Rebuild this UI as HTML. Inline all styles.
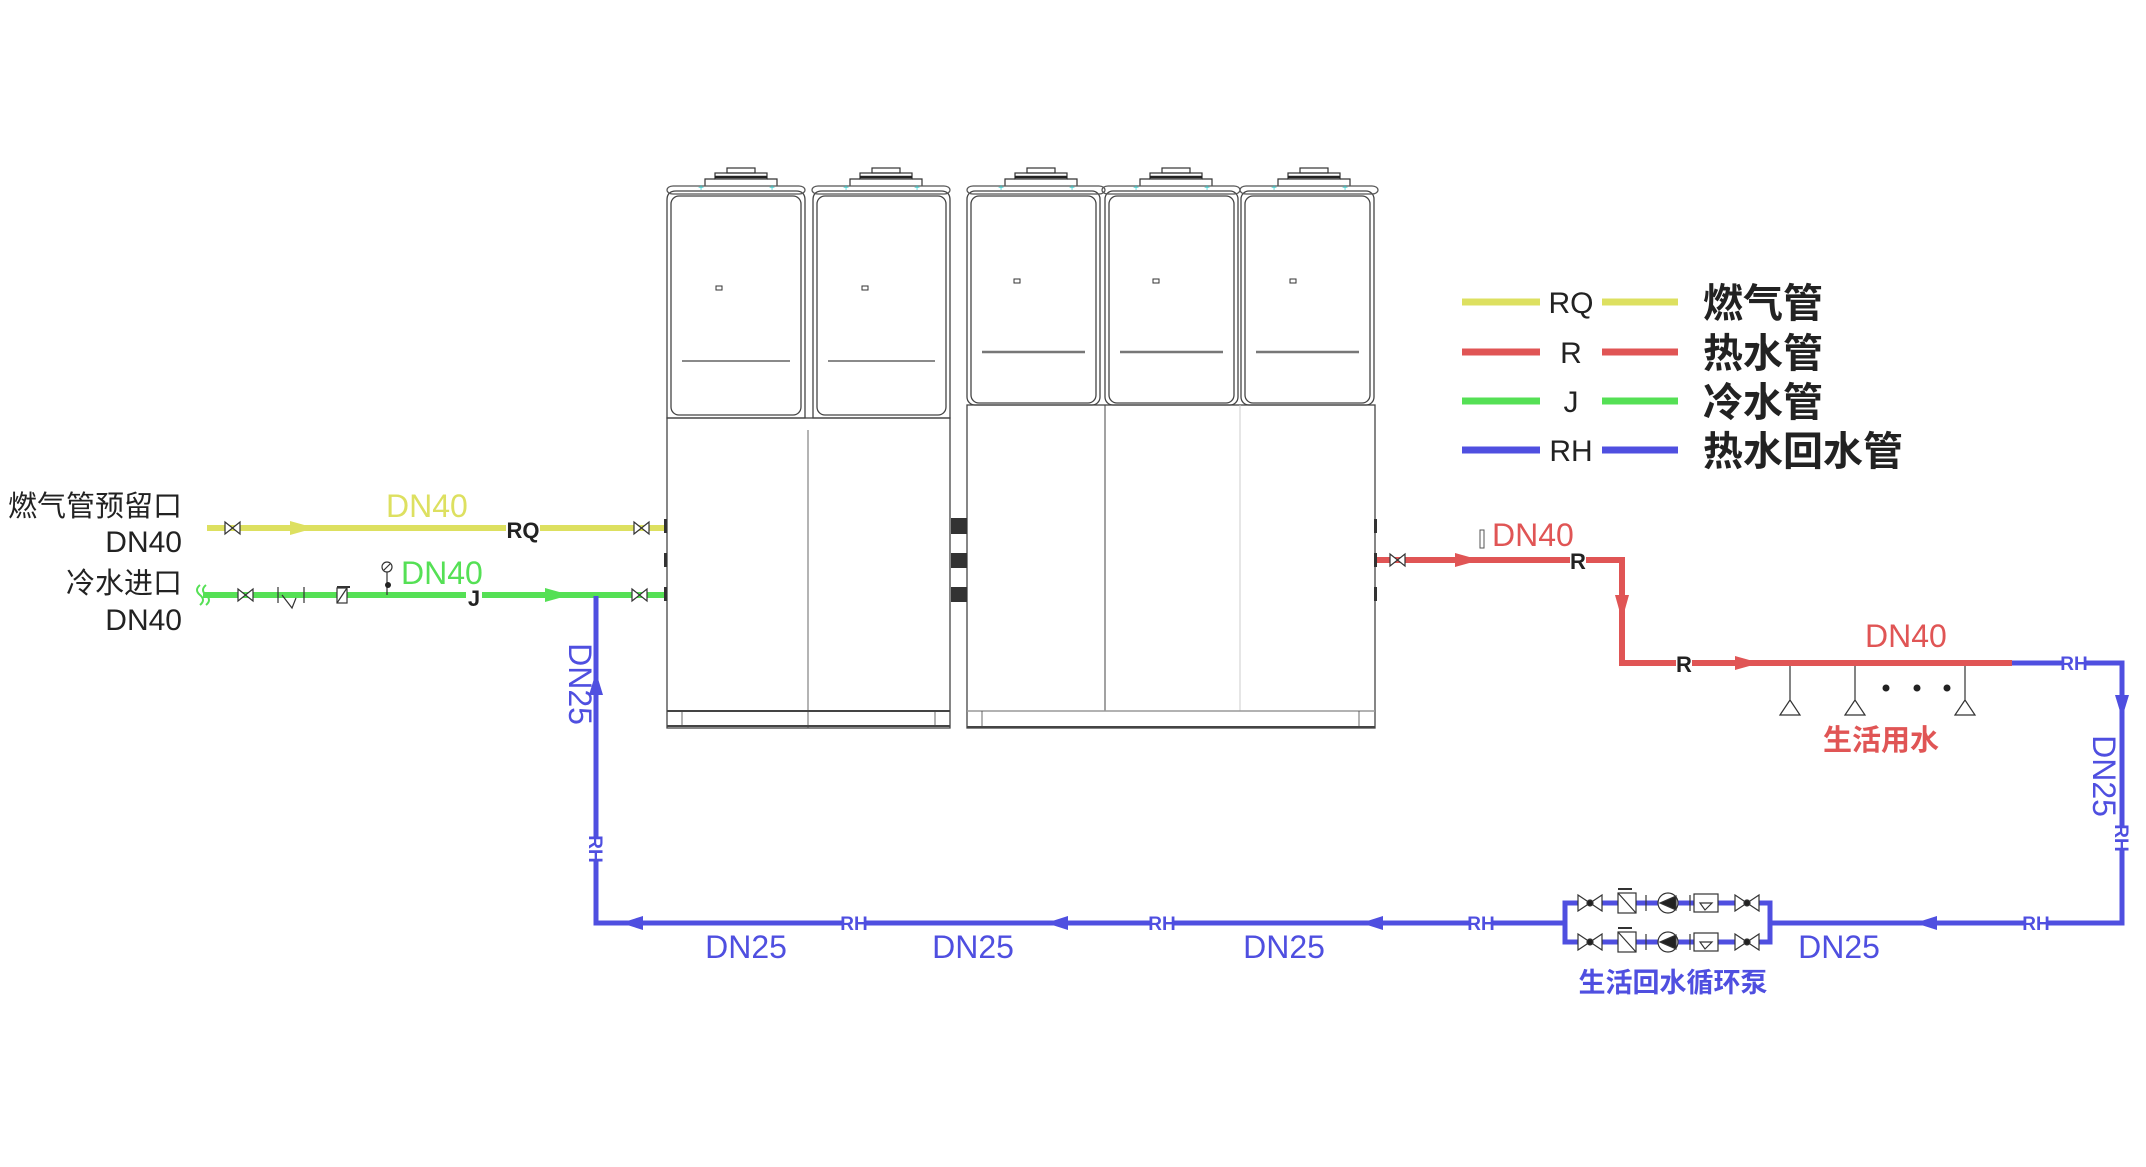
<!DOCTYPE html>
<html><head><meta charset="utf-8"><style>
html,body{margin:0;padding:0;background:#fff;}
svg{display:block;}
text{font-family:"Liberation Sans","Noto Sans CJK SC",sans-serif;}
</style></head><body>
<svg width="2146" height="1167" viewBox="0 0 2146 1167" xmlns="http://www.w3.org/2000/svg">
<defs>
<g id="topL">
  <!-- duct -->
  <rect x="60" y="-18" width="28" height="5" fill="none" stroke="#333" stroke-width="1.2"/>
  <rect x="48" y="-13" width="52" height="6" fill="none" stroke="#333" stroke-width="1.2"/>
  <line x1="48" y1="-9" x2="100" y2="-9" stroke="#222" stroke-width="2.5"/>
  <path d="M38 0 V-7 H48 M100 -7 H110 V0" fill="none" stroke="#333" stroke-width="1.2"/>
  <rect x="0" y="0" width="138" height="8" rx="6" fill="none" stroke="#555" stroke-width="1.2"/>
  <text x="34" y="5" font-size="10" fill="#3cc" text-anchor="middle">+</text>
  <text x="105" y="5" font-size="10" fill="#3cc" text-anchor="middle">+</text>
</g>
</defs>

<!-- ===== Left block units ===== -->
<g stroke="#444" fill="none" stroke-width="1.3">
  <path d="M667 200 Q667 191 676 191 H796 Q805 191 805 200 V418 H667 Z"/>
  <rect x="671" y="196" width="130" height="219" rx="8"/>
  <line x1="682" y1="361" x2="790" y2="361"/>
  <path d="M813 200 Q813 191 822 191 H941 Q950 191 950 200 V418 H813 Z"/>
  <rect x="817" y="196" width="129" height="219" rx="8"/>
  <line x1="828" y1="361" x2="935" y2="361"/>
  <rect x="667" y="418" width="283" height="310"/>
  <line x1="808" y1="430" x2="808" y2="728" stroke-width="0.8"/>
  <line x1="667" y1="711" x2="950" y2="711" stroke-width="2"/>
  <line x1="667" y1="726" x2="950" y2="726" stroke-width="2"/>
  <line x1="682" y1="711" x2="682" y2="726" stroke-width="0.8"/>
  <line x1="935" y1="711" x2="935" y2="726" stroke-width="0.8"/>
</g>
<use href="#topL" x="667" y="186"/>
<use href="#topL" x="812" y="186"/>
<rect x="716" y="286" width="6" height="4" fill="none" stroke="#333"/>
<rect x="862" y="286" width="6" height="4" fill="none" stroke="#333"/>

<!-- ===== Right block units ===== -->
<g stroke="#444" fill="none" stroke-width="1.3">
  <rect x="967" y="191" width="133" height="214" rx="8"/>
  <rect x="971" y="196" width="125" height="207" rx="8"/>
  <line x1="982" y1="352" x2="1085" y2="352" stroke-width="2.5" stroke="#777"/>
  <rect x="1105" y="191" width="133" height="214" rx="8"/>
  <rect x="1109" y="196" width="125" height="207" rx="8"/>
  <line x1="1120" y1="352" x2="1223" y2="352" stroke-width="2.5" stroke="#777"/>
  <rect x="1241" y="191" width="133" height="214" rx="8"/>
  <rect x="1245" y="196" width="125" height="207" rx="8"/>
  <line x1="1256" y1="352" x2="1359" y2="352" stroke-width="2.5" stroke="#777"/>
  <rect x="967" y="405" width="408" height="323"/>
  <line x1="1105" y1="405" x2="1105" y2="711" stroke-width="1"/>
  <line x1="1240" y1="405" x2="1240" y2="711" stroke="#ccc" stroke-width="1"/>
  <line x1="967" y1="711" x2="1375" y2="711" stroke="#999" stroke-width="1.5"/>
  <line x1="967" y1="727" x2="1375" y2="727" stroke-width="2"/>
  <line x1="982" y1="711" x2="982" y2="727" stroke-width="0.8"/>
  <line x1="1359" y1="711" x2="1359" y2="727" stroke-width="0.8"/>
</g>
<use href="#topL" x="967" y="186" transform="translate(0,0)"/>
<use href="#topL" x="1102" y="186"/>
<use href="#topL" x="1240" y="186"/>
<rect x="1014" y="279" width="6" height="4" fill="none" stroke="#333"/>
<rect x="1153" y="279" width="6" height="4" fill="none" stroke="#333"/>
<rect x="1290" y="279" width="6" height="4" fill="none" stroke="#333"/>
<!-- black connectors -->
<rect x="951" y="518" width="16" height="16" fill="#333"/>
<rect x="951" y="553" width="16" height="15" fill="#333"/>
<rect x="951" y="587" width="16" height="15" fill="#333"/>
<rect x="1374" y="519" width="3" height="14" fill="#333"/>
<rect x="1374" y="553" width="3" height="14" fill="#333"/>
<rect x="1374" y="587" width="3" height="14" fill="#333"/>
<rect x="664" y="519" width="3" height="14" fill="#333"/>
<rect x="664" y="553" width="3" height="14" fill="#333"/>
<rect x="664" y="587" width="3" height="14" fill="#333"/>

<!-- ===== Gas line ===== -->
<line x1="207" y1="528" x2="664" y2="528" stroke="#dde060" stroke-width="6"/>
<polygon points="290,521 315,528 290,535" fill="#dde060"/>
<g stroke="#333" stroke-width="1.2" fill="#fff"><path d="M225 522 L240 534 V522 L225 534 Z"/><path d="M634 522 L649 534 V522 L634 534 Z"/></g>
<rect x="506" y="518" width="34" height="22" fill="#fff"/>
<text x="523" y="538" font-size="22" font-weight="bold" fill="#222" text-anchor="middle">RQ</text>
<text x="386" y="517" font-size="32" fill="#dde060">DN40</text>

<!-- ===== Cold water line ===== -->
<line x1="203" y1="595" x2="664" y2="595" stroke="#55e055" stroke-width="6"/>
<polygon points="545,588 570,595 545,602" fill="#55e055"/>
<path d="M200 585 q-6 5 0 10 q6 5 0 10 M206 585 q-6 5 0 10 q6 5 0 10" stroke="#55e055" stroke-width="2" fill="none"/>
<g stroke="#333" stroke-width="1.2" fill="#fff">
<path d="M238 589 L253 601 V589 L238 601 Z"/>
<path d="M632 589 L647 601 V589 L632 601 Z"/>
<line x1="278" y1="587" x2="278" y2="603"/><line x1="304" y1="587" x2="304" y2="603"/><path d="M282 595 L292 608 L296 598" fill="none"/>
<rect x="337" y="588" width="10" height="15"/><line x1="337" y1="603" x2="347" y2="588"/><line x1="337" y1="587" x2="350" y2="587" stroke-width="2"/>
<circle cx="387" cy="567" r="5"/><line x1="384" y1="570" x2="390" y2="564"/><line x1="387" y1="572" x2="387" y2="595"/>
</g>
<circle cx="388" cy="585" r="3" fill="#222"/>
<rect x="466" y="586" width="16" height="22" fill="#fff"/>
<text x="474" y="606" font-size="22" font-weight="bold" fill="#222" text-anchor="middle">J</text>
<text x="401" y="584" font-size="32" fill="#55e055">DN40</text>

<!-- left labels -->
<text x="182" y="516" font-size="29" fill="#222" text-anchor="end">燃气管预留口</text>
<text x="182" y="552" font-size="30" fill="#222" text-anchor="end">DN40</text>
<text x="182" y="593" font-size="29" fill="#222" text-anchor="end">冷水进口</text>
<text x="182" y="630" font-size="30" fill="#222" text-anchor="end">DN40</text>

<!-- ===== Hot water line ===== -->
<path d="M1377 560 H1622 V663 H2012" stroke="#e05555" stroke-width="6" fill="none"/>
<polygon points="1455,553 1480,560 1455,567" fill="#e05555"/>
<polygon points="1615,595 1622,620 1629,595" fill="#e05555"/>
<polygon points="1735,656 1760,663 1735,670" fill="#e05555"/>
<g stroke="#333" stroke-width="1.2" fill="#fff"><path d="M1390 554 L1405 566 V554 L1390 566 Z"/></g>
<rect x="1480" y="530" width="4" height="18" fill="none" stroke="#555"/>
<rect x="1570" y="549" width="16" height="22" fill="#fff"/>
<text x="1578" y="569" font-size="22" font-weight="bold" fill="#222" text-anchor="middle">R</text>
<rect x="1676" y="652" width="16" height="22" fill="#fff"/>
<text x="1684" y="672" font-size="22" font-weight="bold" fill="#222" text-anchor="middle">R</text>
<text x="1492" y="546" font-size="32" fill="#e05555">DN40</text>
<text x="1865" y="647" font-size="32" fill="#e05555">DN40</text>
<!-- fixtures -->
<g stroke="#333" stroke-width="1.2" fill="none">
<path d="M1790 666 V700 M1780 715 L1790 700 L1800 715 Z"/>
<path d="M1855 666 V700 M1845 715 L1855 700 L1865 715 Z"/>
<path d="M1965 666 V700 M1955 715 L1965 700 L1975 715 Z"/>
</g>
<circle cx="1886" cy="688" r="3.5" fill="#222"/><circle cx="1917" cy="688" r="3.5" fill="#222"/><circle cx="1947" cy="688" r="3.5" fill="#222"/>
<text x="1881" y="750" font-size="29" font-weight="bold" fill="#e05555" text-anchor="middle">生活用水</text>

<!-- ===== Return line ===== -->
<path d="M2012 663 H2122 V923 H1769 M1565 923 H596 V596" stroke="#4f4fe0" stroke-width="5" fill="none"/>
<path d="M1565 922 V903 H1770 V942 H1565 V922" stroke="#4f4fe0" stroke-width="5" fill="none"/>
<polygon points="2115,695 2122,718 2129,695" fill="#4f4fe0"/>
<polygon points="1937,916 1915,923 1937,930" fill="#4f4fe0"/>
<polygon points="1383,916 1361,923 1383,930" fill="#4f4fe0"/>
<polygon points="1068,916 1046,923 1068,930" fill="#4f4fe0"/>
<polygon points="643,916 621,923 643,930" fill="#4f4fe0"/>
<polygon points="589,695 596,672 603,695" fill="#4f4fe0"/>
<g font-size="19" font-weight="bold" fill="#4f4fe0" text-anchor="middle">
<rect x="2062" y="652" width="24" height="22" fill="#fff"/><text x="2074" y="670">RH</text>
<rect x="2024" y="912" width="24" height="22" fill="#fff"/><text x="2036" y="930">RH</text>
<rect x="1469" y="912" width="24" height="22" fill="#fff"/><text x="1481" y="930">RH</text>
<rect x="1150" y="912" width="24" height="22" fill="#fff"/><text x="1162" y="930">RH</text>
<rect x="842" y="912" width="24" height="22" fill="#fff"/><text x="854" y="930">RH</text>
<rect x="585" y="837" width="22" height="24" fill="#fff"/><text transform="translate(589,849) rotate(90)" x="0" y="0">RH</text>
<rect x="2111" y="826" width="22" height="24" fill="#fff"/><text transform="translate(2115,838) rotate(90)" x="0" y="0">RH</text>
</g>
<g font-size="32" fill="#4f4fe0" text-anchor="middle">
<text x="746" y="958">DN25</text>
<text x="973" y="958">DN25</text>
<text x="1284" y="958">DN25</text>
<text x="1839" y="958">DN25</text>
<text transform="translate(569,684) rotate(90)">DN25</text>
<text transform="translate(2093,776) rotate(90)">DN25</text>
</g>
<!-- pump group components -->
<g id="prow" stroke="#333" stroke-width="1.2" fill="#fff">
<path d="M1578 895 L1602 911 V895 L1578 911 Z"/><circle cx="1590" cy="903" r="3" fill="#222"/>
<rect x="1618" y="893" width="18" height="20"/><line x1="1618" y1="893" x2="1636" y2="913"/><line x1="1618" y1="889" x2="1632" y2="889" stroke-width="2"/>
<line x1="1646" y1="895" x2="1646" y2="911"/><circle cx="1668" cy="903" r="10"/><polygon points="1676,896 1676,910 1660,903" fill="#222"/><line x1="1690" y1="895" x2="1690" y2="911"/>
<rect x="1694" y="894" width="24" height="18"/><path d="M1700 903 L1712 903 L1705 910 Z"/>
<path d="M1735 895 L1759 911 V895 L1735 911 Z"/><circle cx="1747" cy="903" r="3" fill="#222"/>
</g>
<use href="#prow" x="0" y="39"/>
<text x="1673" y="992" font-size="27" font-weight="bold" fill="#4f4fe0" text-anchor="middle">生活回水循环泵</text>

<!-- ===== Legend ===== -->
<g stroke-width="7">
<line x1="1462" y1="302" x2="1540" y2="302" stroke="#dde060"/><line x1="1602" y1="302" x2="1678" y2="302" stroke="#dde060"/>
<line x1="1462" y1="352" x2="1540" y2="352" stroke="#e05555"/><line x1="1602" y1="352" x2="1678" y2="352" stroke="#e05555"/>
<line x1="1462" y1="401" x2="1540" y2="401" stroke="#55e055"/><line x1="1602" y1="401" x2="1678" y2="401" stroke="#55e055"/>
<line x1="1462" y1="450" x2="1540" y2="450" stroke="#4f4fe0"/><line x1="1602" y1="450" x2="1678" y2="450" stroke="#4f4fe0"/>
</g>
<g font-size="30" fill="#222" text-anchor="middle">
<text x="1571" y="313">RQ</text><text x="1571" y="363">R</text><text x="1571" y="412">J</text><text x="1571" y="461">RH</text>
</g>
<g font-size="40" font-weight="bold" fill="#222">
<text x="1703" y="317">燃气管</text><text x="1703" y="367">热水管</text><text x="1703" y="416">冷水管</text><text x="1703" y="465">热水回水管</text>
</g>
</svg>
</body></html>
